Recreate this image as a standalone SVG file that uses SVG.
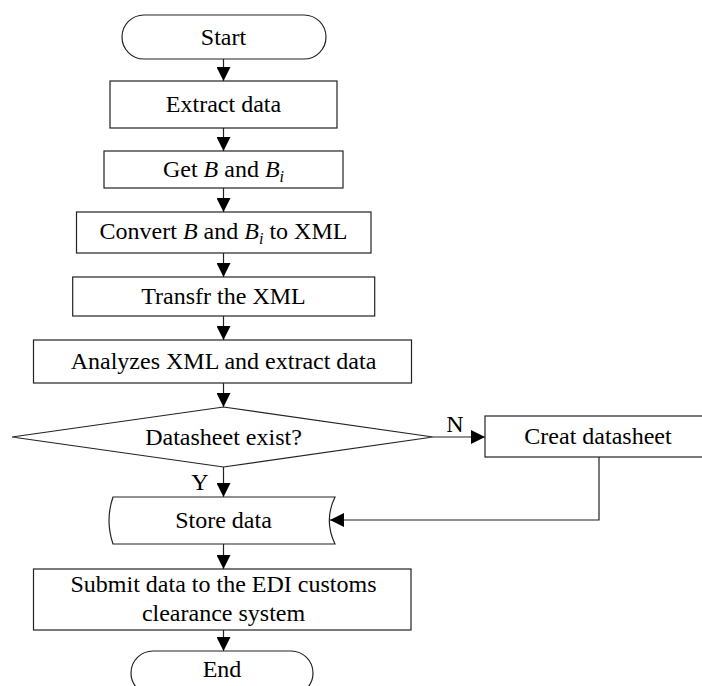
<svg xmlns="http://www.w3.org/2000/svg" width="702" height="686" viewBox="0 0 702 686">
<style>
.s{fill:#fff;stroke:#222;stroke-width:1.2}
.t{font-family:"Liberation Serif","Times New Roman",serif;font-size:24px;fill:#000;text-anchor:middle}
.i{font-style:italic}
.c{fill:none;stroke:#222;stroke-width:1.2}
</style>
<defs>
<marker id="ah" markerUnits="userSpaceOnUse" markerWidth="14" markerHeight="14" refX="14" refY="7" orient="auto">
<path d="M0,0 L14,7 L0,14 Z" fill="#000"/>
</marker>
</defs>
<rect width="702" height="686" fill="#fff"/>
<g id="connectors">
<line class="c" x1="223.5" y1="59" x2="223.5" y2="81" marker-end="url(#ah)"/>
<line class="c" x1="223.5" y1="128" x2="223.5" y2="151" marker-end="url(#ah)"/>
<line class="c" x1="223.5" y1="188" x2="223.5" y2="212" marker-end="url(#ah)"/>
<line class="c" x1="223.5" y1="253" x2="223.5" y2="277" marker-end="url(#ah)"/>
<line class="c" x1="223.5" y1="316" x2="223.5" y2="340" marker-end="url(#ah)"/>
<line class="c" x1="223.5" y1="383" x2="223.5" y2="407" marker-end="url(#ah)"/>
<line class="c" x1="223.5" y1="467" x2="223.5" y2="497" marker-end="url(#ah)"/>
<line class="c" x1="223.5" y1="544" x2="223.5" y2="569" marker-end="url(#ah)"/>
<line class="c" x1="223.5" y1="630" x2="223.5" y2="651" marker-end="url(#ah)"/>
<line class="c" x1="433" y1="437" x2="485" y2="437" marker-end="url(#ah)"/>
<polyline class="c" points="599,457 599,520 330,520" marker-end="url(#ah)"/>
<text class="t" x="455" y="432">N</text>
<text class="t" x="200" y="490">Y</text>
</g>
<g id="start">
<rect class="s" x="122" y="15" width="204" height="44" rx="22" ry="22"/>
<text class="t" x="223.5" y="45">Start</text>
</g>
<g id="extract">
<rect class="s" x="110" y="81" width="227" height="47"/>
<text class="t" x="223.5" y="112">Extract data</text>
</g>
<g id="get">
<rect class="s" x="104" y="151" width="239" height="37"/>
<text class="t" x="223.5" y="177">Get <tspan class="i">B</tspan> and <tspan class="i">B</tspan><tspan class="i" font-size="16" dy="5">i</tspan></text>
</g>
<g id="convert">
<rect class="s" x="76.5" y="212" width="294.5" height="41"/>
<text class="t" x="223.5" y="239">Convert <tspan class="i">B</tspan> and <tspan class="i">B</tspan><tspan class="i" font-size="16" dy="5">i</tspan><tspan dy="-5"> to XML</tspan></text>
</g>
<g id="transfer">
<rect class="s" x="72.7" y="277" width="302" height="39"/>
<text class="t" x="223.5" y="304">Transfr the XML</text>
</g>
<g id="analyze">
<rect class="s" x="33.5" y="340" width="378" height="43"/>
<text class="t" x="223.5" y="369">Analyzes XML and extract data</text>
</g>
<g id="decision">
<polygon class="s" points="12,437 223.5,407 433,437 223.5,467"/>
<text class="t" x="223.5" y="445">Datasheet exist?</text>
</g>
<g id="create">
<rect class="s" x="485" y="416" width="226" height="41"/>
<text class="t" x="598" y="444">Creat datasheet</text>
</g>
<g id="store">
<path class="s" d="M113,497 L335,497 Q323.6,520.5 335,544 L113,544 Q105,520.5 113,497 Z"/>
<text class="t" x="223.5" y="528">Store data</text>
</g>
<g id="submit">
<rect class="s" x="33.5" y="569" width="377.5" height="61"/>
<text class="t" x="223.5" y="592">Submit data to the EDI customs</text>
<text class="t" x="223.5" y="621">clearance system</text>
</g>
<g id="end">
<rect class="s" x="131" y="651" width="182" height="44" rx="22" ry="22"/>
<text class="t" x="222" y="677">End</text>
</g>
</svg>
